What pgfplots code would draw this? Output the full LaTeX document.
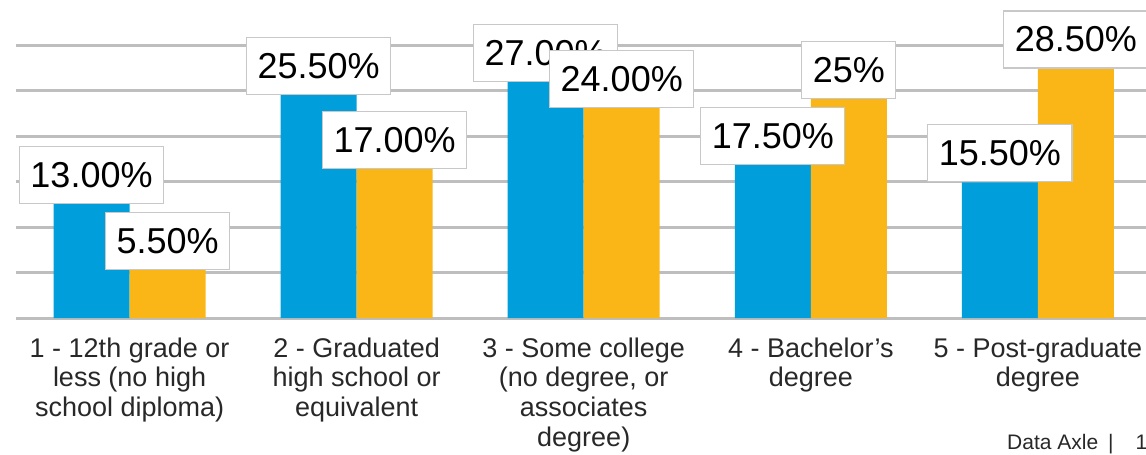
\documentclass[border=0pt]{standalone}
\usepackage{pgfplots}
\pgfplotsset{compat=1.18}
\usepackage{fontspec}
\setmainfont{Liberation Sans}
\definecolor{barblue}{RGB}{0,159,219}
\definecolor{baryellow}{RGB}{250,181,22}
\definecolor{gridgray}{RGB}{190,190,190}
\definecolor{boxgray}{RGB}{200,200,200}
\definecolor{txt}{RGB}{40,40,40}
\pgfplotsset{
  lbl/.style={
    draw=none, fill=none, forget plot, bar shift=0pt,
    point meta=explicit symbolic,
    nodes near coords={\pgfplotspointmeta},
    every node near coord/.style={
      anchor=south, fill=white, draw=boxgray, line width=0.6pt,
      text=black, font=\fontsize{18}{20}\selectfont,
      inner xsep=5.5pt, inner ysep=0pt, minimum height=28.5pt,
    },
  },
}
\begin{document}
\begin{tikzpicture}
\begin{axis}[
  name=ax,
  scale only axis, width=565pt, height=159pt,
  xmin=-0.5, xmax=4.476, ymin=0, ymax=36.34,
  axis line style={draw=none},
  ytick={0,5.19,10.38,15.57,20.76,25.95,31.14},
  yticklabels={},
  ymajorgrids, grid style={gridgray, line width=1.5pt},
  major tick length=0pt,
  xtick={0,1,2,3,4},
  xticklabels={{1 - 12th grade or\\less (no high\\school diploma)},
               {2 - Graduated\\high school or\\equivalent},
               {3 - Some college\\(no degree, or\\associates\\degree)},
               {4 - Bachelor's\\degree},
               {5 - Post-graduate\\degree}},
  xticklabel style={align=center, font=\fontsize{13.5}{14.9}\selectfont, text=txt,
    anchor=north, inner sep=0pt, yshift=-9.6pt},
  ybar, bar width=38pt,
  clip=false,
]
\addplot[fill=barblue, draw=none, bar shift=-19pt] coordinates {(0,13) (1,25.5) (2,27) (3,17.5) (4,15.5)};
\addplot[fill=baryellow, draw=none, bar shift=19pt] coordinates {(0,5.5) (1,17) (2,24) (3,25) (4,28.5)};
\addplot[lbl] coordinates {(-0.1674,13) [13.00\%] (0.8326,25.5) [25.50\%] (1.8326,27) [27.00\%] (2.8326,17.5) [17.50\%] (3.8326,15.5) [15.50\%]};
\addplot[lbl] coordinates {(0.1674,5.5) [5.50\%] (1.1674,17) [17.00\%] (2.1674,24) [24.00\%] (3.1674,25) [25\%] (4.1674,28.5) [28.50\%]};
\node[anchor=base west, yshift=-65.5pt, font=\fontsize{10.5}{12}\selectfont, text=txt, inner sep=0pt] at (axis cs:3.863,0) {Data Axle\hspace{5pt}|\hspace{11pt}1};
\end{axis}
\pgfresetboundingbox
\path ([xshift=-8pt,yshift=-68.5pt]ax.south west) rectangle (ax.north east);
\end{tikzpicture}
\end{document}
